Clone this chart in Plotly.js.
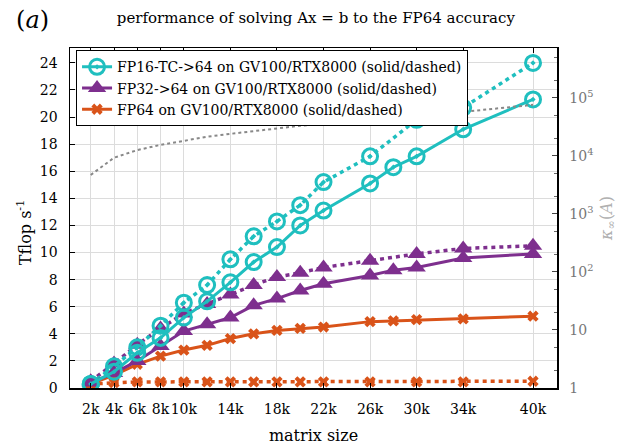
<!DOCTYPE html>
<html><head><meta charset="utf-8">
<script src="https://cdn.plot.ly/plotly-3.0.1.min.js"></script>
<style>html,body{margin:0;padding:0;background:#fff}</style>
</head><body><div id="chart" style="width:623px;height:446px"></div>
<script>
// matrix sizes (in thousands)
const sizesSolid  = [2,4,6,8,10,12,14,16,18,20,22,26,28,30,34,40];
const sizesDashed = [2,4,6,8,10,12,14,16,18,20,22,26,30,34,40];
const sizesKappa  = [2,4,6,8,10,12,14,16,18,20,22,26,30,34,40];

// Tflop/s, GV100 (solid)
const fp16Solid = [0.3,1.2,2.6,3.7,5.2,6.4,7.8,9.3,10.4,12.0,13.1,15.1,16.3,17.1,19.1,21.3];
const fp32Solid = [0.4,1.1,2.0,3.1,4.2,4.7,5.2,6.1,6.6,7.2,7.7,8.3,8.7,8.9,9.6,9.9];
const fp64Solid = [0.3,0.95,1.75,2.35,2.8,3.15,3.65,4.0,4.25,4.4,4.5,4.9,4.95,5.05,5.1,5.3];
// Tflop/s, RTX8000 (dashed)
const fp16Dashed = [0.3,1.6,3.0,4.6,6.3,7.6,9.5,11.2,12.3,13.5,15.2,17.1,19.8,20.7,24.0];
const fp32Dashed = [0.5,1.8,3.2,4.4,5.5,6.2,6.9,7.6,8.2,8.5,8.9,9.4,9.9,10.3,10.5];
const fp64Dashed = [0.3,0.4,0.45,0.45,0.45,0.45,0.45,0.45,0.45,0.45,0.45,0.45,0.45,0.45,0.5];
// condition number kappa_inf(A)
const kappa = [4700,9300,12600,15500,18200,21400,24000,26900,30200,33100,35500,43700,49000,57500,75900];

const xTickVals = [2,4,6,8,10,14,18,22,26,30,34,40];
const xTickText = ['2k','4k','6k','8k','10k','14k','18k','22k','26k','30k','34k','40k'];
const y2TickVals = [1,10,100,1000,10000,100000];
const y2TickText = ['1','10','10<sup>2</sup>','10<sup>3</sup>','10<sup>4</sup>','10<sup>5</sup>'];

const legendNames = ['FP16-TC->64 on GV100/RTX8000 (solid/dashed)','FP32->64 on GV100/RTX8000 (solid/dashed)','FP64 on GV100/RTX8000 (solid/dashed)'];

const cCyan = '#1fbfbf', cPurple = '#7e2f8e', cOrange = '#d95319';
const F = 'DejaVu Serif';

const traces = [
  {x: sizesKappa, y: kappa, yaxis: 'y2', mode: 'lines', line: {color: '#888', width: 2, dash: 'dot'}, showlegend: false, hoverinfo: 'skip'},
  {x: sizesDashed, y: fp64Dashed, mode: 'lines+markers', line: {color: cOrange, width: 3.5, dash: '4px,4px'}, marker: {symbol: 'x', size: 10, color: cOrange}, showlegend: false},
  {x: sizesDashed, y: fp32Dashed, mode: 'lines+markers', line: {color: cPurple, width: 3.5, dash: '4px,4px'}, marker: {symbol: 'triangle-up', size: 16, color: cPurple}, showlegend: false},
  {x: sizesDashed, y: fp16Dashed, mode: 'lines+markers', line: {color: cCyan, width: 3.5, dash: '4px,4px'}, marker: {symbol: 'circle-open-dot', size: 15, color: cCyan, line: {width: 3}}, showlegend: false},
  {x: sizesSolid, y: fp64Solid, mode: 'lines+markers', name: legendNames[2], line: {color: cOrange, width: 3}, marker: {symbol: 'x', size: 10, color: cOrange}},
  {x: sizesSolid, y: fp32Solid, mode: 'lines+markers', name: legendNames[1], line: {color: cPurple, width: 3}, marker: {symbol: 'triangle-up', size: 16, color: cPurple}},
  {x: sizesSolid, y: fp16Solid, mode: 'lines+markers', name: legendNames[0], line: {color: cCyan, width: 3}, marker: {symbol: 'circle-open-dot', size: 15, color: cCyan, line: {width: 3}}}
];

const layout = {
  width: 623, height: 446,
  margin: {l: 70, r: 66, t: 48, b: 58},
  paper_bgcolor: '#fff', plot_bgcolor: '#fff',
  font: {family: F, color: '#000', size: 14},
  showlegend: true,
  legend: {x: 0.012, y: 0.994, xanchor: 'left', yanchor: 'top', bgcolor: '#fff', bordercolor: '#000', borderwidth: 1.2,
    font: {family: F, size: 14, color: '#000'}, traceorder: 'reversed', tracegroupgap: 0, itemwidth: 30},
  xaxis: {range: [0.22, 42.06], tickvals: xTickVals, ticktext: xTickText, tickangle: 0, ticks: 'inside', ticklen: 5, tickcolor: '#000',
    showline: true, linecolor: '#000', linewidth: 1.5, mirror: 'ticks', showgrid: true, gridcolor: '#dcdcdc', gridwidth: 1,
    zeroline: false, ticklabelstandoff: 8, tickfont: {family: F, size: 14, color: '#000'},
    title: {text: 'matrix size', font: {family: F, size: 16, color: '#000'}, standoff: 13}},
  yaxis: {range: [0, 25.1], dtick: 2, tick0: 0, ticks: 'inside', ticklen: 5, tickcolor: '#000',
    showline: true, linecolor: '#000', linewidth: 1.5, mirror: false, showgrid: true, gridcolor: '#dcdcdc', gridwidth: 1,
    zeroline: false, ticklabelstandoff: 8, tickfont: {family: F, size: 14, color: '#000'}},
  yaxis2: {type: 'log', range: [0, 5.86], overlaying: 'y', side: 'right', tickvals: y2TickVals, ticktext: y2TickText,
    ticks: 'inside', ticklen: 5, tickcolor: '#444', showline: true, linecolor: '#000', linewidth: 1.5, showgrid: false, zeroline: false,
    minor: {ticks: 'inside', ticklen: 3, tickcolor: '#666', showgrid: false},
    ticklabelstandoff: 8, tickfont: {family: F, size: 14, color: '#777'},
    title: {text: '<i>κ</i><sub>∞</sub>(<i>A</i>)', font: {family: F, size: 16, color: '#b0b0b0'}, standoff: 8}},
  title: {text: 'performance of solving Ax = b to the FP64 accuracy', font: {family: F, size: 15, color: '#000'}, x: 0.507, xanchor: 'center', y: 0.96, yanchor: 'middle'},
  annotations: [
    {text: '(<i>a</i>)', xref: 'paper', yref: 'paper', x: -0.115, y: 1.082, xanchor: 'left', yanchor: 'middle', showarrow: false, font: {family: F, size: 24, color: '#000'}},
    {text: 'Tflop s<sup>-1</sup>', xref: 'paper', yref: 'paper', x: -0.092, y: 0.456, xanchor: 'center', yanchor: 'middle', textangle: -90, showarrow: false, font: {family: F, size: 16, color: '#000'}}
  ]
};

Plotly.newPlot('chart', traces, layout, {displayModeBar: false, staticPlot: true});
</script></body></html>
